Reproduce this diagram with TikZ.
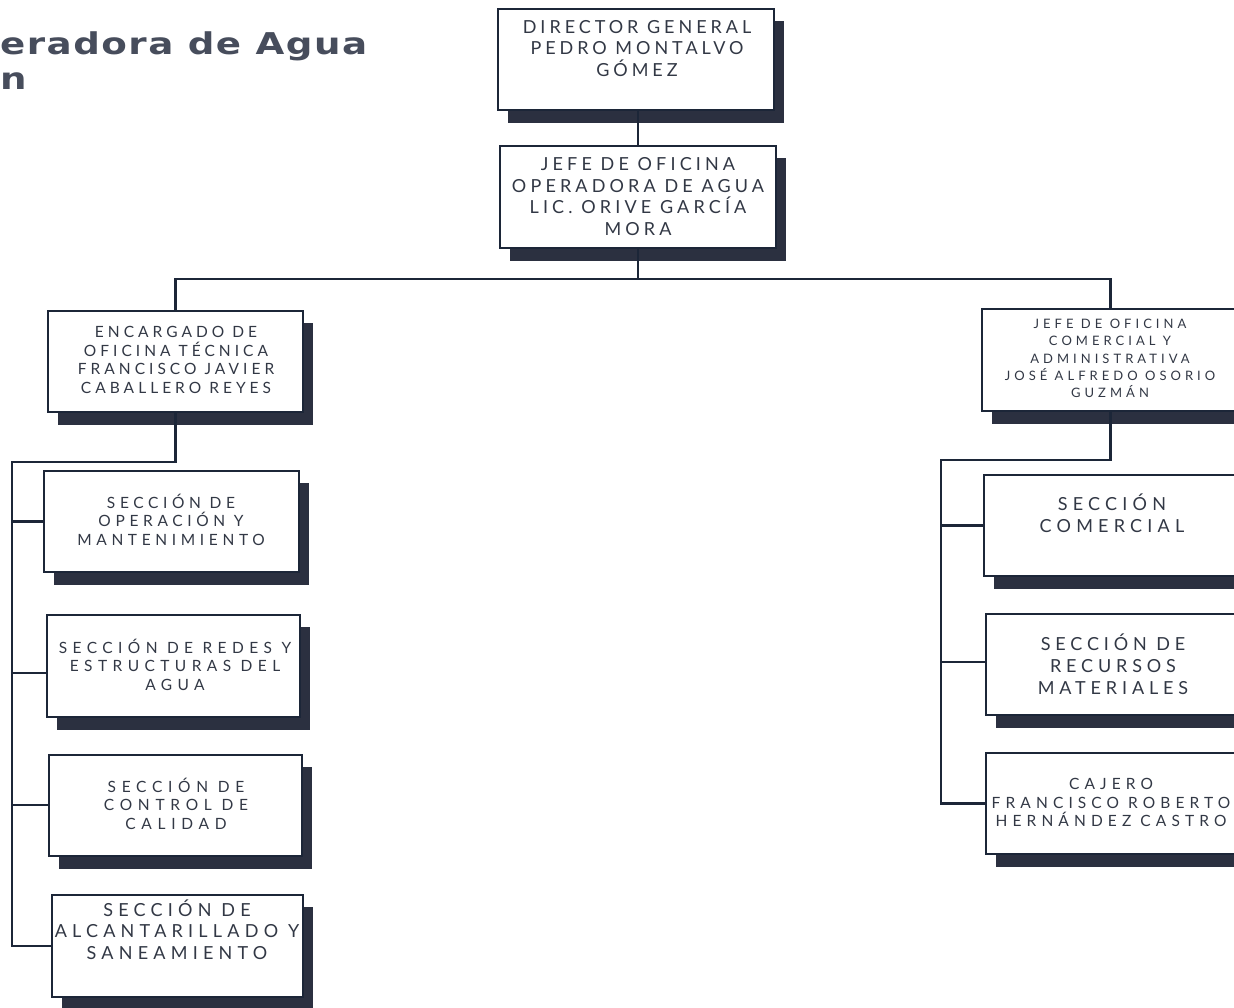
\documentclass[tikz,border=0pt]{standalone}
\usepackage{fontspec}
\newfontfamily\orgfont{Lato}
\newfontfamily\ttlfont[LetterSpace=4]{DejaVu Sans}
\definecolor{ink}{HTML}{323845}
\definecolor{edgec}{HTML}{1C2638}
\definecolor{shadowc}{HTML}{2B3040}
\definecolor{ttl}{HTML}{474D5C}
\newcommand\orgbox[9]{% name, x1, y1, x2, y2, cx, cy, font setup, text
  \fill[shadowc] (#2+11,#3+13) rectangle (#4+11,#5+14);
  \node[box, minimum width={#4-#2}, minimum height={#5-#3}, anchor=north west] (#1) at (#2,#3) {};
  \node[txt, font={\orgfont#8}] (#1-t) at (#6,#7) {#9};
}
\newcommand\fs[3]{\addfontfeature{LetterSpace=#3}\fontsize{#1}{#2}\selectfont}
\begin{document}
\begin{tikzpicture}[x=1pt,y=-1pt,
  box/.style={draw=edgec, line width=1.8pt, fill=white, inner sep=0pt},
  conn/.style={draw=edgec, line width=2.8pt},
  txt/.style={text=ink, align=center, inner sep=0pt, anchor=center},
  ttlstyle/.style={anchor=base west, inner sep=0pt, text=ttl, font={\ttlfont\bfseries\fontsize{30}{36}\selectfont}}]
\useasboundingbox (0,0) rectangle (1234,1008);

% title
\node[ttlstyle] (title1) at (0,55) {\scalebox{1.24}[1]{eradora de Agua}};
\node[ttlstyle] (title2) at (0,90) {\scalebox{1.24}[1]{n}};

% top boxes
\orgbox{dir}{497}{8}{773}{109}{637}{48.5}{\fs{18}{21.5}{22}}{DIRECTOR GENERAL\\PEDRO MONTALVO\\GÓMEZ}
\orgbox{jefe}{499}{145}{775}{247}{638}{196.5}{\fs{18}{21.7}{23}}{JEFE DE OFICINA\\OPERADORA DE AGUA\\LIC. ORIVE GARCÍA\\MORA}

% second level
\orgbox{enc}{47}{310}{302}{411}{176}{360}{\fs{15.5}{18.7}{26}}{ENCARGADO DE\\OFICINA TÉCNICA\\FRANCISCO JAVIER\\CABALLERO REYES}
\orgbox{jc}{981}{308}{1238}{410}{1110}{358.5}{\fs{13}{17.2}{31}}{JEFE DE OFICINA\\COMERCIAL Y\\ADMINISTRATIVA\\JOSÉ ALFREDO OSORIO\\GUZMÁN}

% left sections
\orgbox{op}{43}{470}{298}{571}{171}{519.5}{\fs{15.5}{18.5}{30}}{SECCIÓN DE\\OPERACIÓN Y\\MANTENIMIENTO}
\orgbox{red}{46}{614}{299}{716}{175}{664.5}{\fs{15.5}{18.5}{35}}{SECCIÓN DE REDES Y\\ESTRUCTURAS DEL\\AGUA}
\orgbox{cal}{48}{754}{301}{855}{176}{803.5}{\fs{15.5}{18.5}{37}}{SECCIÓN DE\\CONTROL DE\\CALIDAD}
\orgbox{alc}{51}{894}{302}{996}{177}{929.5}{\fs{18}{21.5}{29}}{SECCIÓN DE\\ALCANTARILLADO Y\\SANEAMIENTO}

% right sections
\orgbox{com}{983}{474}{1240}{575}{1112}{513}{\fs{18}{22}{29}}{SECCIÓN\\COMERCIAL}
\orgbox{rec}{985}{613}{1240}{714}{1113}{664}{\fs{18}{22}{27}}{SECCIÓN DE\\RECURSOS\\MATERIALES}
\orgbox{caj}{985}{752}{1240}{853}{1111}{802.5}{\fs{15.5}{18.5}{33}}{CAJERO\\FRANCISCO ROBERTO\\HERNÁNDEZ CASTRO}

% connectors
\coordinate (bus) at (638,279);
\draw[conn] (dir.south -| bus) -- (jefe.north -| bus);
\draw[conn] (jefe.south -| bus) -- (bus);
\draw[conn] (enc.north) |- (bus) -| (jc.north);

\coordinate (lt) at (12,462);
\coordinate (lr) at (12,673);
\coordinate (lc) at (12,805);
\draw[conn] (enc.south) |- (lt) |- (alc.west);
\draw[conn] (lt |- op.west) -- (op.west);
\draw[conn] (lr) -- (lr -| red.west);
\draw[conn] (lc) -- (lc -| cal.west);

\coordinate (rt) at (941,460);
\coordinate (rr) at (941,662);
\draw[conn] (jc.south) |- (rt) |- (caj.west);
\draw[conn] (rt |- com.west) -- (com.west);
\draw[conn] (rr) -- (rr -| rec.west);
\end{tikzpicture}
\end{document}
